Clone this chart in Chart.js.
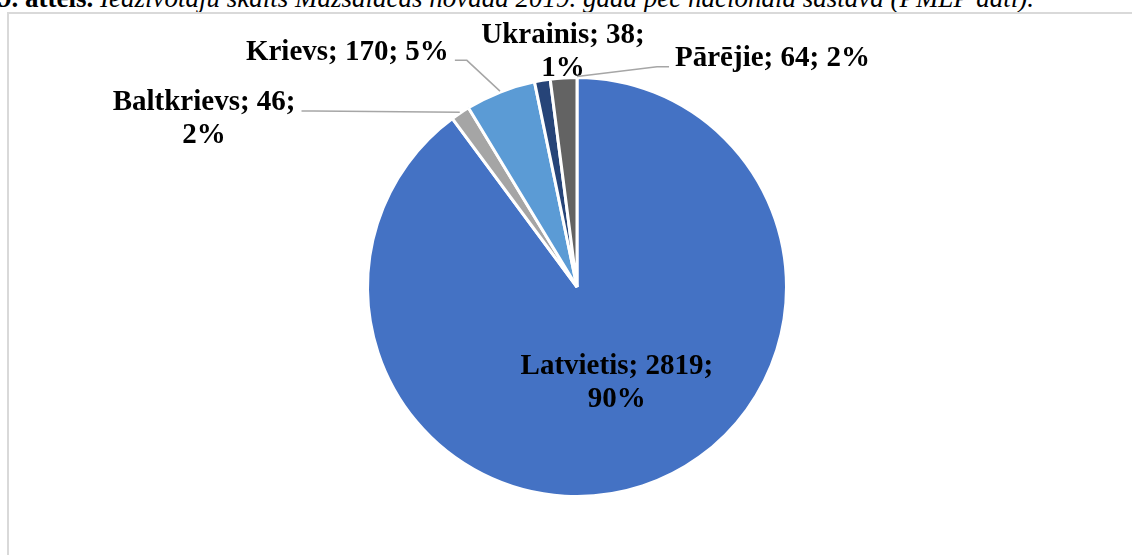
<!DOCTYPE html>
<html>
<head>
<meta charset="utf-8">
<script src="https://cdn.jsdelivr.net/npm/chart.js@4"></script>
<style>
  html, body { margin: 0; padding: 0; background: #fff; overflow: hidden; }
  #wrap { position: relative; width: 1132px; height: 555px; overflow: hidden; }
  #caption {
    position: absolute; left: -2px; top: -15px; white-space: nowrap;
    font-family: "Liberation Serif", serif; font-size: 27px; line-height: 27px; color: #000;
  }
  #frame {
    position: absolute; left: 7px; top: 12px; width: 1140px; height: 560px;
    border: 2px solid #d9d9d9; box-sizing: border-box;
  }
  #myChart { position: absolute; left: 0; top: 0; }
</style>
</head>
<body>
<div id="wrap">
  <div id="caption"><b>9. attēls.</b> <i>Iedzīvotāju skaits Mazsalacas novadā 2019. gadā pēc nacionālā sastāva (PMLP dati).</i></div>
  <div id="frame"></div>
  <canvas id="myChart" width="1132" height="555"></canvas>
</div>
<script>
// Categories and values (PMLP)
var nations = ["Latvietis", "Baltkrievs", "Krievs", "Ukrainis", "Pārējie"];
var people = [2819, 46, 170, 38, 64];
var colors = ["#4472C4", "#A5A5A5", "#5B9BD5", "#264478", "#636363"];

// label placement, in pie radii from the centre; lead = where the leader line meets the slice
var labelPlace = [
  { dx: 0.19, dy: 0.46, lines: 2 },
  { dx: -1.78, dy: -0.80, lines: 2, side: "right", lead: 0.5 },
  { dx: -1.096, dy: -1.12, lines: 1, side: "right", lead: 0.5 },
  { dx: -0.067, dy: -1.12, lines: 2 },
  { dx: 0.933, dy: -1.09, lines: 1, side: "left", lead: 1.0 }
];

// percentages the way Excel shows them (they add up to 100)
function percents(vals) {
  var total = vals.reduce(function (a, b) { return a + b; }, 0);
  var raw = vals.map(function (v) { return v / total * 100; });
  var out = raw.map(Math.floor);
  var left = 100 - out.reduce(function (a, b) { return a + b; }, 0);
  var order = raw.map(function (r, i) { return i; })
    .sort(function (a, b) { return (raw[b] - out[b]) - (raw[a] - out[a]); });
  for (var k = 0; k < left; k++) out[order[k]]++;
  return out;
}
var pct = percents(people);

var labelFont = "bold 29px 'Liberation Serif', 'Times New Roman', serif";
var lineH = 33;

var pieLabels = {
  id: "pieLabels",
  afterDraw: function (chart) {
    var ctx = chart.ctx;
    var arcs = chart.getDatasetMeta(0).data;
    ctx.save();
    ctx.font = labelFont;
    ctx.textAlign = "center";
    ctx.textBaseline = "middle";
    arcs.forEach(function (arc, i) {
      var p = labelPlace[i];
      var r = arc.outerRadius;
      var cx = arc.x + p.dx * r, cy = arc.y + p.dy * r;
      var lines;
      if (p.lines === 2) {
        lines = [nations[i] + "; " + people[i] + ";", pct[i] + "%"];
      } else {
        lines = [nations[i] + "; " + people[i] + "; " + pct[i] + "%"];
      }
      var top = cy - (lines.length - 1) * lineH / 2;
      ctx.fillStyle = "#000";
      lines.forEach(function (t, j) { ctx.fillText(t, cx, top + j * lineH); });

      if (p.side) {
        var w = ctx.measureText(lines[0]).width;
        var sy = top + 8;
        var sx = p.side === "right" ? cx + w / 2 + 6 : cx - w / 2 - 6;
        var ex = p.side === "right" ? sx + 12 : sx - 12;
        var a = arc.startAngle + (arc.endAngle - arc.startAngle) * p.lead;
        var px = arc.x + Math.cos(a) * (r + 1), py = arc.y + Math.sin(a) * (r + 1);
        ctx.strokeStyle = "#a6a6a6";
        ctx.lineWidth = 1.5;
        ctx.beginPath();
        ctx.moveTo(sx, sy);
        ctx.lineTo(ex, sy);
        ctx.lineTo(px, py);
        ctx.stroke();
      }
    });
    ctx.restore();
  }
};

var myChart = new Chart("myChart", {
  type: "pie",
  data: {
    labels: nations,
    datasets: [{
      data: people,
      backgroundColor: colors,
      borderColor: "#ffffff",
      borderWidth: 3
    }]
  },
  options: {
    responsive: false,
    animation: false,
    layout: { padding: { top: 76, bottom: 57, left: 100, right: 78 } },
    plugins: {
      legend: { display: false },
      tooltip: { enabled: false }
    }
  },
  plugins: [pieLabels]
});
</script>
</body>
</html>
